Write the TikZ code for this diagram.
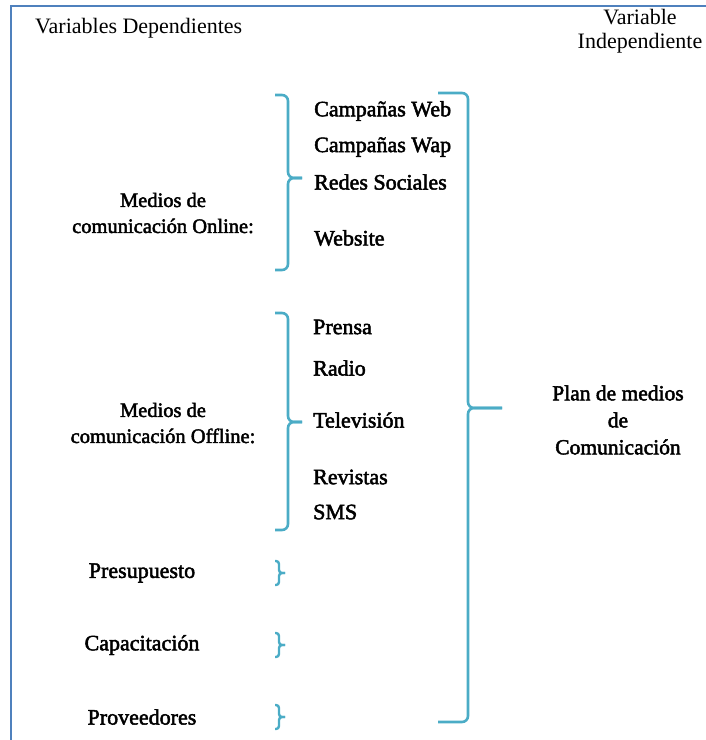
\documentclass[tikz,border=0pt]{standalone}
\usepackage{fontspec}
\setmainfont{Liberation Serif}
\newfontfamily\heavyfont{Liberation Serif}[FakeBold=2.2]
\definecolor{frameblue}{RGB}{79,129,189}
\definecolor{braceteal}{RGB}{75,172,198}

\begin{document}
\begin{tikzpicture}[x=1pt, y=-1pt,
	every node/.style={font=\fontsize{22}{26}\selectfont\heavyfont, inner sep=0pt},
	head/.style={font=\fontsize{22}{24}\selectfont, align=center},
	item/.style={anchor=west},
	group/.style={align=center},
	brace/.style={draw=braceteal, line width=2.6pt, rounded corners=6pt},
	tinybrace/.style={draw=braceteal, line width=2.4pt, rounded corners=3pt}]
	\useasboundingbox (0,0) rectangle (706,740);
	\draw[frameblue, line width=2pt] (11,740) -- (11,6) -- (706,6);
	\node[head, anchor=west] (dep) at (35,28) {Variables Dependientes};
	\node[head] (indep) at (640,31) {Variable\\Independiente};
	\node[group, font=\fontsize{20.5}{26}\selectfont\heavyfont] (online) at (163,213) {Medios de\\comunicación Online:};
	\node[group, font=\fontsize{20.5}{26}\selectfont\heavyfont] (offline) at (163,423) {Medios de\\comunicación Offline:};
	\foreach \txt/\y [count=\i] in {Campañas Web/111, Campañas Wap/147, Redes Sociales/182, Website/238}
		\node[item] (on\i) at (314,\y) {\txt};
	\foreach \txt/\y [count=\i] in {Prensa/327, Radio/368, Televisión/420, Revistas/477, SMS/512}
		\node[item] (off\i) at (313,\y) {\txt};
	\foreach \txt/\y/\n in {Presupuesto/573/presup, Capacitación/645/capac, Proveedores/717/prov} {
		\node (\n) at (142,\y) {\txt};
		\draw[tinybrace] (275,\y-12) -- (279,\y-12) -- (279,\y) -- (285,\y);
		\draw[tinybrace] (285,\y) -- (279,\y) -- (279,\y+12) -- (275,\y+12);
	}
	\node[group, font=\fontsize{21.5}{27}\selectfont\heavyfont] (plan) at (618,420) {Plan de medios\\de\\Comunicación};
	\draw[brace] (275,95) -- (288,95) -- (288,178) -- (302,178);
	\draw[brace] (302,178) -- (288,178) -- (288,270) -- (275,270);
	\draw[brace] (275,313) -- (288,313) -- (288,422) -- (302,422);
	\draw[brace] (302,422) -- (288,422) -- (288,530) -- (275,530);
	\draw[brace] (438,93) -- (468,93) -- (468,408) -- (502,408);
	\draw[brace] (502,408) -- (468,408) -- (468,722) -- (438,722);
\end{tikzpicture}
\end{document}
